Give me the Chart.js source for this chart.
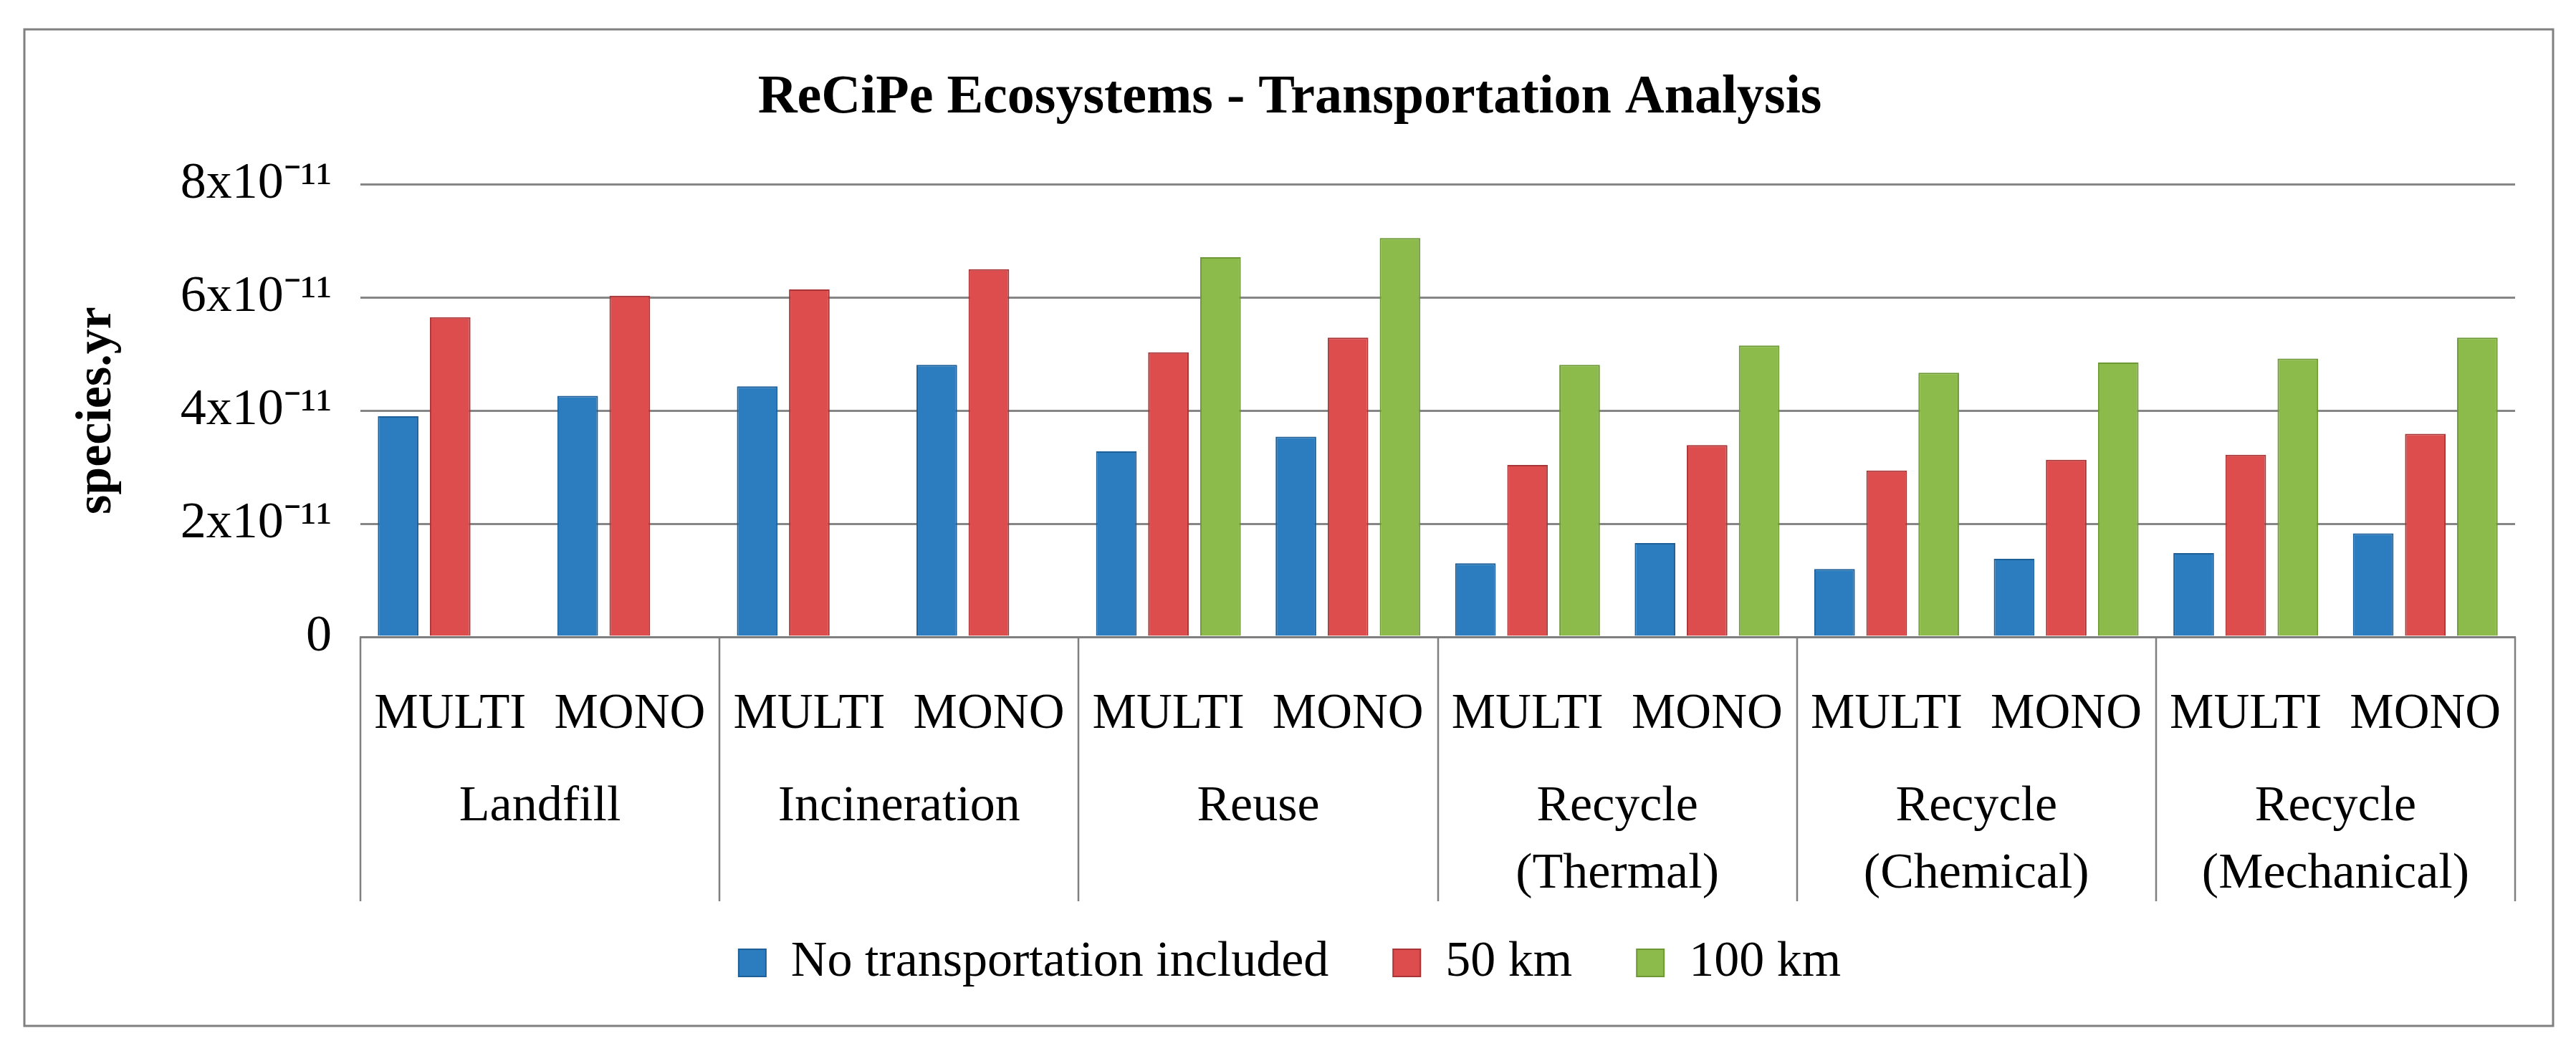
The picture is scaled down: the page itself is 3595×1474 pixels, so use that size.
<!DOCTYPE html>
<html>
<head>
<meta charset="utf-8">
<script src="https://cdn.jsdelivr.net/npm/chart.js@4.4.0/dist/chart.umd.min.js"></script>
<style>
  html, body { margin: 0; padding: 0; background: #fff; }
  canvas { display: block; }
</style>
</head>
<body>
<canvas id="myChart" width="3595" height="1474"></canvas>
<script>
/* global Chart */

// values, in units of 1e-11 species.yr
let subLabels = ["MULTI", "MONO", "MULTI", "MONO", "MULTI", "MONO", "MULTI", "MONO", "MULTI", "MONO", "MULTI", "MONO"];
let groupLabels = [["Landfill"], ["Incineration"], ["Reuse"], ["Recycle", "(Thermal)"], ["Recycle", "(Chemical)"], ["Recycle", "(Mechanical)"]];
let noTransport = [3.90, 4.26, 4.43, 4.81, 3.28, 3.54, 1.30, 1.66, 1.20, 1.38, 1.48, 1.83];
let km50 = [5.65, 6.03, 6.14, 6.50, 5.03, 5.29, 3.04, 3.39, 2.94, 3.13, 3.22, 3.59];
let km100 = [null, null, null, null, 6.71, 7.05, 4.81, 5.15, 4.67, 4.85, 4.92, 5.29];
let yTicks = [0, 2, 4, 6, 8];

const serif = "'Liberation Serif', 'Times New Roman', serif";

// draws the two-level category axis (group names + separators) and the frame
const groupAxis = {
  id: "groupAxis",
  beforeDraw(chart) {
    const ctx = chart.ctx;
    ctx.save();
    ctx.fillStyle = "#fff";
    ctx.fillRect(0, 0, chart.width, chart.height);
    ctx.restore();
  },
  afterDraw(chart) {
    const ctx = chart.ctx;
    const x = chart.scales.x;
    const n = subLabels.length;
    const per = n / groupLabels.length;
    function edge(i) {
      if (i === 0) return x.left;
      if (i === n) return x.right;
      return (x.getPixelForValue(i - 1) + x.getPixelForValue(i)) / 2;
    }
    ctx.save();
    ctx.strokeStyle = "#7f7f7f";
    ctx.lineWidth = 2.5;
    for (let g = 0; g <= groupLabels.length; g++) {
      const px = Math.round(edge(g * per));
      ctx.beginPath();
      ctx.moveTo(px, x.top);
      ctx.lineTo(px, x.top + 369);
      ctx.stroke();
    }
    ctx.fillStyle = "#000";
    ctx.font = "70px " + serif;
    ctx.textAlign = "center";
    ctx.textBaseline = "middle";
    groupLabels.forEach(function (lines, g) {
      const cx = (edge(g * per) + edge((g + 1) * per)) / 2;
      lines.forEach(function (line, k) {
        ctx.fillText(line, cx, x.top + 238 + k * 94);
      });
    });
    // outer frame
    ctx.strokeStyle = "#808080";
    ctx.lineWidth = 3;
    ctx.strokeRect(34, 41, 3529, 1391);
    ctx.restore();
  },
};

function buildChart() {
  var ctx = document.getElementById("myChart").getContext("2d");
  var myChart = new Chart(ctx, {
    type: "bar",
    data: {
      labels: subLabels,
      datasets: [
        {
          label: "No transportation included",
          data: noTransport,
          backgroundColor: "#2b7dc0",
          borderColor: "#1d5f96",
          borderWidth: 2,
        },
        {
          label: "50 km",
          data: km50,
          backgroundColor: "#dd4d4e",
          borderColor: "#a83536",
          borderWidth: 2,
        },
        {
          label: "100 km",
          data: km100,
          backgroundColor: "#8cbb4b",
          borderColor: "#6d9836",
          borderWidth: 2,
        },
      ],
    },
    options: {
      responsive: false,
      animation: false,
      devicePixelRatio: 1,
      categoryPercentage: 0.87,
      barPercentage: 0.78,
      layout: {
        padding: { left: 90, right: 85, top: 0, bottom: 85 },
      },
      plugins: {
        title: {
          display: true,
          text: "ReCiPe Ecosystems - Transportation Analysis",
          color: "#000",
          font: { family: serif, size: 76, weight: "bold", lineHeight: 1.2 },
          padding: { top: 92, bottom: 74 },
        },
        legend: {
          position: "bottom",
          labels: {
            color: "#000",
            font: { family: serif, size: 70 },
            boxWidth: 38,
            boxHeight: 38,
            padding: 90,
          },
        },
        tooltip: { enabled: false },
      },
      scales: {
        x: {
          grid: { display: false },
          border: { display: true, color: "#7f7f7f", width: 3 },
          ticks: {
            color: "#000",
            font: { family: serif, size: 69 },
            padding: 59,
            autoSkip: false,
            maxRotation: 0,
          },
          afterFit: function (scale) {
            scale.height = 330;
          },
        },
        y: {
          min: 0,
          max: 8,
          afterBuildTicks: function (scale) {
            scale.ticks = yTicks.map(function (v) {
              return { value: v };
            });
          },
          grid: { color: "#868686", lineWidth: 3, drawTicks: false },
          border: { display: false },
          ticks: {
            color: "#000",
            font: { family: serif, size: 72 },
            padding: 40,
            callback: function (v) {
              return v === 0 ? "0" : Math.round(v) + "x10\u207B\u00B9\u00B9";
            },
          },
          title: {
            display: true,
            text: "species.yr",
            color: "#000",
            font: { family: serif, size: 70, weight: "bold", lineHeight: 1.2 },
            padding: { top: 4, bottom: 0 },
          },
          afterFit: function (scale) {
            scale.width = 413;
          },
        },
      },
    },
    plugins: [groupAxis],
  });
}

buildChart();
</script>
</body>
</html>
